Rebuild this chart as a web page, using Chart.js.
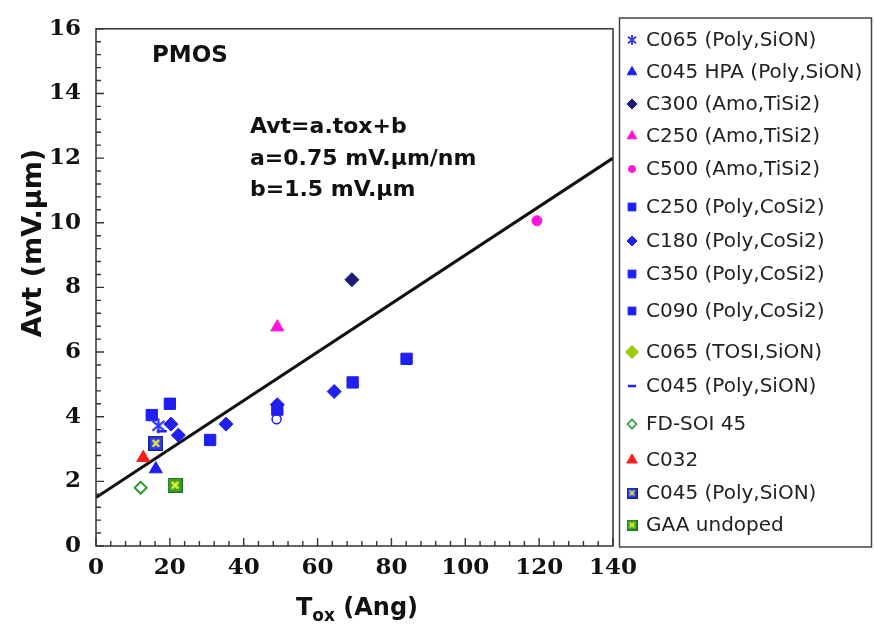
<!DOCTYPE html>
<html>
<head>
<meta charset="utf-8">
<script src="https://cdn.jsdelivr.net/npm/chart.js@4.4.1/dist/chart.umd.min.js"></script>
<style>
  html, body { margin: 0; padding: 0; background: #fff; }
  canvas { display: block; }
</style>
</head>
<body>
<canvas id="avtChart" width="874" height="627"></canvas>
<script>
// valeurs : [Tox (Ang), Avt (mV.um)]
const c065PolySiON   = [[16.9, 3.72]];
const c045HpaPolySiON = [[16.2, 2.38]];
const c300AmoTiSi2   = [[69.3, 8.24]];
const c250AmoTiSi2   = [[49.1, 6.77]];
const c500AmoTiSi2   = [[119.4, 10.06]];
const c250PolyCoSi2  = [[84.1, 5.79], [69.5, 5.06], [49.1, 4.22]];
const c180PolyCoSi2  = [[64.5, 4.78], [49.1, 4.37], [35.2, 3.77], [20.3, 3.77], [22.3, 3.43]];
const c350PolyCoSi2  = [[30.9, 3.28]];
const c090PolyCoSi2  = [[20.0, 4.40], [15.1, 4.05]];
const c065TosiSiON   = [];
const c045PolySiONDash = [[17.8, 3.55]];
const fdSoi45        = [[12.1, 1.80]];
const c032           = [[12.8, 2.73]];
const c045PolySiONBox = [[16.2, 3.18]];
const gaaUndoped     = [[21.4, 1.88]];
const openCircle     = [[48.9, 3.92]];

// droite de fit Avt = a.tox + b
const fitTox = [0, 140];
const fitAvt = [1.5, 12];

const xTicks = [0, 20, 40, 60, 80, 100, 120, 140];
const yTicks = [0, 2, 4, 6, 8, 10, 12, 14, 16];

const BLUE = '#1f1ff0';
const NAVY = '#1c1c78';
const MAGENTA = '#ff14dc';
const LIME = '#99cc00';
const GREEN = '#2f9a2f';
const RED = '#ff1a1a';

const pts = arr => arr.map(p => ({ x: p[0], y: p[1] }));

// petits dessins pour les marqueurs spéciaux
function marker(kind, size, fill, stroke, cross) {
  const c = document.createElement('canvas');
  c.width = c.height = size;
  const g = c.getContext('2d');
  const m = size / 2;
  if (kind === 'asterisk') {
    const r = m - 1;
    g.strokeStyle = stroke;
    g.lineWidth = Math.max(1.8, size / 8);
    g.beginPath();
    g.moveTo(m - r * 0.8, m - r * 0.65); g.lineTo(m + r * 0.8, m + r * 0.65);
    g.moveTo(m + r * 0.8, m - r * 0.65); g.lineTo(m - r * 0.8, m + r * 0.65);
    g.moveTo(m, m - r); g.lineTo(m, m + r);
    g.stroke();
  } else {
    g.fillStyle = fill;
    g.fillRect(0, 0, size, size);
    g.strokeStyle = stroke;
    g.lineWidth = 1;
    g.strokeRect(0.5, 0.5, size - 1, size - 1);
    g.strokeStyle = cross;
    g.lineWidth = Math.max(1.5, size / 6);
    const k = size * 0.28;
    g.beginPath();
    g.moveTo(k, k); g.lineTo(size - k, size - k);
    g.moveTo(size - k, k); g.lineTo(k, size - k);
    g.stroke();
  }
  return c;
}

const asteriskBig = marker('asterisk', 17, null, '#3030ff');
const asteriskSmall = marker('asterisk', 12, null, '#3030ff');
const c045BoxBig = marker('box', 15, '#2a3ae8', '#1a1a90', '#e6e640');
const c045BoxSmall = marker('box', 11, '#2a3ae8', '#1a1a90', '#e6e640');
const gaaBoxBig = marker('box', 15, '#3aa02a', '#207020', '#f0f020');
const gaaBoxSmall = marker('box', 11, '#3aa02a', '#207020', '#f0f020');

const datasets = [
  { label: 'C065 (Poly,SiON)', data: pts(c065PolySiON), pointStyle: asteriskBig,
    backgroundColor: BLUE, borderColor: BLUE, legend: { style: asteriskSmall, r: 5 } },
  { label: 'C045 HPA (Poly,SiON)', data: pts(c045HpaPolySiON), pointStyle: 'triangle', pointRadius: 7.5,
    backgroundColor: BLUE, borderColor: BLUE, legend: { style: 'triangle', r: 5.5 } },
  { label: 'C300 (Amo,TiSi2)', data: pts(c300AmoTiSi2), pointStyle: 'rectRot', pointRadius: 7,
    backgroundColor: NAVY, borderColor: NAVY, legend: { style: 'rectRot', r: 5 } },
  { label: 'C250 (Amo,TiSi2)', data: pts(c250AmoTiSi2), pointStyle: 'triangle', pointRadius: 7.5,
    backgroundColor: MAGENTA, borderColor: MAGENTA, legend: { style: 'triangle', r: 5.5 } },
  { label: 'C500 (Amo,TiSi2)', data: pts(c500AmoTiSi2), pointStyle: 'circle', pointRadius: 5,
    backgroundColor: MAGENTA, borderColor: MAGENTA, legend: { style: 'circle', r: 3.5 } },
  { label: 'C250 (Poly,CoSi2)', data: pts(c250PolyCoSi2), pointStyle: 'rect', pointRadius: 8,
    backgroundColor: BLUE, borderColor: BLUE, legend: { style: 'rect', r: 5.5 } },
  { label: 'C180 (Poly,CoSi2)', data: pts(c180PolyCoSi2), pointStyle: 'rectRot', pointRadius: 7,
    backgroundColor: BLUE, borderColor: BLUE, legend: { style: 'rectRot', r: 5 } },
  { label: 'C350 (Poly,CoSi2)', data: pts(c350PolyCoSi2), pointStyle: 'rect', pointRadius: 8,
    backgroundColor: BLUE, borderColor: BLUE, legend: { style: 'rect', r: 5.5 } },
  { label: 'C090 (Poly,CoSi2)', data: pts(c090PolyCoSi2), pointStyle: 'rect', pointRadius: 8,
    backgroundColor: BLUE, borderColor: BLUE, legend: { style: 'rect', r: 5.5 } },
  { label: 'C065 (TOSI,SiON)', data: pts(c065TosiSiON), pointStyle: 'rectRot', pointRadius: 7,
    backgroundColor: LIME, borderColor: LIME, legend: { style: 'rectRot', r: 6.5 } },
  { label: 'C045 (Poly,SiON)', data: pts(c045PolySiONDash), pointStyle: 'line', pointRadius: 5,
    pointBorderWidth: 2.5, backgroundColor: BLUE, borderColor: BLUE, legend: { style: 'line', r: 4, bw: 2.5 } },
  { label: 'FD-SOI 45', data: pts(fdSoi45), pointStyle: 'rectRot', pointRadius: 6, pointBorderWidth: 2,
    backgroundColor: '#fff', borderColor: GREEN, legend: { style: 'rectRot', r: 4.5, bw: 1.6 } },
  { label: 'C032', data: pts(c032), pointStyle: 'triangle', pointRadius: 7.5,
    backgroundColor: RED, borderColor: RED, legend: { style: 'triangle', r: 6 } },
  { label: 'C045 (Poly,SiON)', data: pts(c045PolySiONBox), pointStyle: c045BoxBig,
    backgroundColor: BLUE, borderColor: BLUE, legend: { style: c045BoxSmall, r: 5 } },
  { label: 'GAA undoped', data: pts(gaaUndoped), pointStyle: gaaBoxBig,
    backgroundColor: GREEN, borderColor: GREEN, legend: { style: gaaBoxSmall, r: 5 } },
  { label: '', data: pts(openCircle), pointStyle: 'circle', pointRadius: 4.5, pointBorderWidth: 1.5,
    backgroundColor: '#fff', borderColor: BLUE },
  { type: 'line', label: 'fit', data: fitTox.map((x, i) => ({ x: x, y: fitAvt[i] })),
    borderColor: '#111', borderWidth: 3, pointRadius: 0, order: 1 }
];

const PLOT = { left: 96, right: 613, top: 18, bottom: 546 };

// cadre, graduations internes, titres et annotations
const decorations = {
  id: 'decorations',
  afterDraw(chart) {
    const ctx = chart.ctx;
    const xs = chart.scales.x, ys = chart.scales.y;
    const a = chart.chartArea;
    ctx.save();
    ctx.strokeStyle = '#333';
    ctx.lineWidth = 1.5;
    ctx.strokeRect(a.left, a.top, a.right - a.left, a.bottom - a.top);

    ctx.lineWidth = 1.4;
    ctx.beginPath();
    for (let v = 0; v <= 140; v += 4) {
      const px = xs.getPixelForValue(v);
      const len = v % 20 === 0 ? 8 : 5;
      ctx.moveTo(px, a.bottom); ctx.lineTo(px, a.bottom - len);
    }
    for (let i = 0; i <= 40; i++) {
      const py = ys.getPixelForValue(i * 0.4);
      const len = i % 5 === 0 ? 8 : 5;
      ctx.moveTo(a.left, py); ctx.lineTo(a.left + len, py);
    }
    ctx.stroke();

    ctx.fillStyle = '#111';
    ctx.textBaseline = 'middle';
    ctx.textAlign = 'left';
    ctx.font = 'bold 23px "DejaVu Sans"';
    ctx.fillText('PMOS', 152, 56);
    ctx.font = 'bold 22px "DejaVu Sans"';
    ctx.fillText('Avt=a.tox+b', 250, 127);
    ctx.fillText('a=0.75 mV.\u00b5m/nm', 250, 159);
    ctx.fillText('b=1.5 mV.\u00b5m', 250, 190);

    // titre axe y
    ctx.save();
    ctx.translate(34, 243);
    ctx.rotate(-Math.PI / 2);
    ctx.textAlign = 'center';
    ctx.font = 'bold 27px "DejaVu Sans"';
    ctx.fillText('Avt (mV.\u00b5m)', 0, 0);
    ctx.restore();

    // titre axe x avec indice
    ctx.textBaseline = 'alphabetic';
    const big = 'bold 24px "DejaVu Sans"', small = 'bold 17px "DejaVu Sans"';
    ctx.font = big; const wT = ctx.measureText('T').width; const wR = ctx.measureText(' (Ang)').width;
    ctx.font = small; const wS = ctx.measureText('ox').width;
    let x0 = 357 - (wT + wS + wR) / 2;
    ctx.font = big; ctx.fillText('T', x0, 615);
    ctx.font = small; ctx.fillText('ox', x0 + wT, 621);
    ctx.font = big; ctx.fillText(' (Ang)', x0 + wT + wS, 615);

    // légende
    ctx.strokeStyle = '#444';
    ctx.lineWidth = 1.5;
    ctx.strokeRect(619.5, 18, 252, 529);
    const rows = [40, 72, 104, 136, 169, 207, 241, 274, 311, 352, 386, 424, 460, 493, 525];
    let i = 0;
    chart.data.datasets.forEach(ds => {
      if (!ds.legend) return;
      const y = rows[i++];
      ctx.fillStyle = ds.backgroundColor;
      ctx.strokeStyle = ds.borderColor;
      ctx.lineWidth = ds.legend.bw || 1;
      Chart.helpers.drawPoint(ctx, { pointStyle: ds.legend.style, radius: ds.legend.r, rotation: 0,
        borderWidth: ds.legend.bw || 1 }, 632, y);
      ctx.fillStyle = '#222';
      ctx.font = '20px "DejaVu Sans"';
      ctx.textBaseline = 'middle';
      ctx.textAlign = 'left';
      ctx.fillText(ds.label, 646, y + 1);
    });
    ctx.restore();
  }
};

new Chart(document.getElementById('avtChart'), {
  type: 'scatter',
  data: { datasets: datasets },
  options: {
    responsive: false,
    animation: false,
    devicePixelRatio: 1,
    layout: { padding: { left: 0, right: 874 - PLOT.right, top: PLOT.top, bottom: 0 } },
    plugins: { legend: { display: false }, tooltip: { enabled: false } },
    elements: { point: { borderWidth: 1 } },
    scales: {
      x: {
        type: 'linear', min: 0, max: 140,
        afterFit: s => { s.height = 627 - PLOT.bottom; },
        afterBuildTicks: s => { s.ticks = xTicks.map(v => ({ value: v })); },
        grid: { display: false, drawTicks: false },
        border: { display: false },
        ticks: { padding: 8, color: '#111', font: { family: 'DejaVu Serif', weight: 'bold', size: 23 } }
      },
      y: {
        type: 'linear', min: 0, max: 16,
        afterFit: s => { s.width = PLOT.left; },
        afterBuildTicks: s => { s.ticks = yTicks.map(v => ({ value: v })); },
        grid: { display: false, drawTicks: false },
        border: { display: false },
        ticks: { padding: 15, color: '#111', font: { family: 'DejaVu Serif', weight: 'bold', size: 23 } }
      }
    }
  },
  plugins: [decorations]
});
</script>
</body>
</html>
